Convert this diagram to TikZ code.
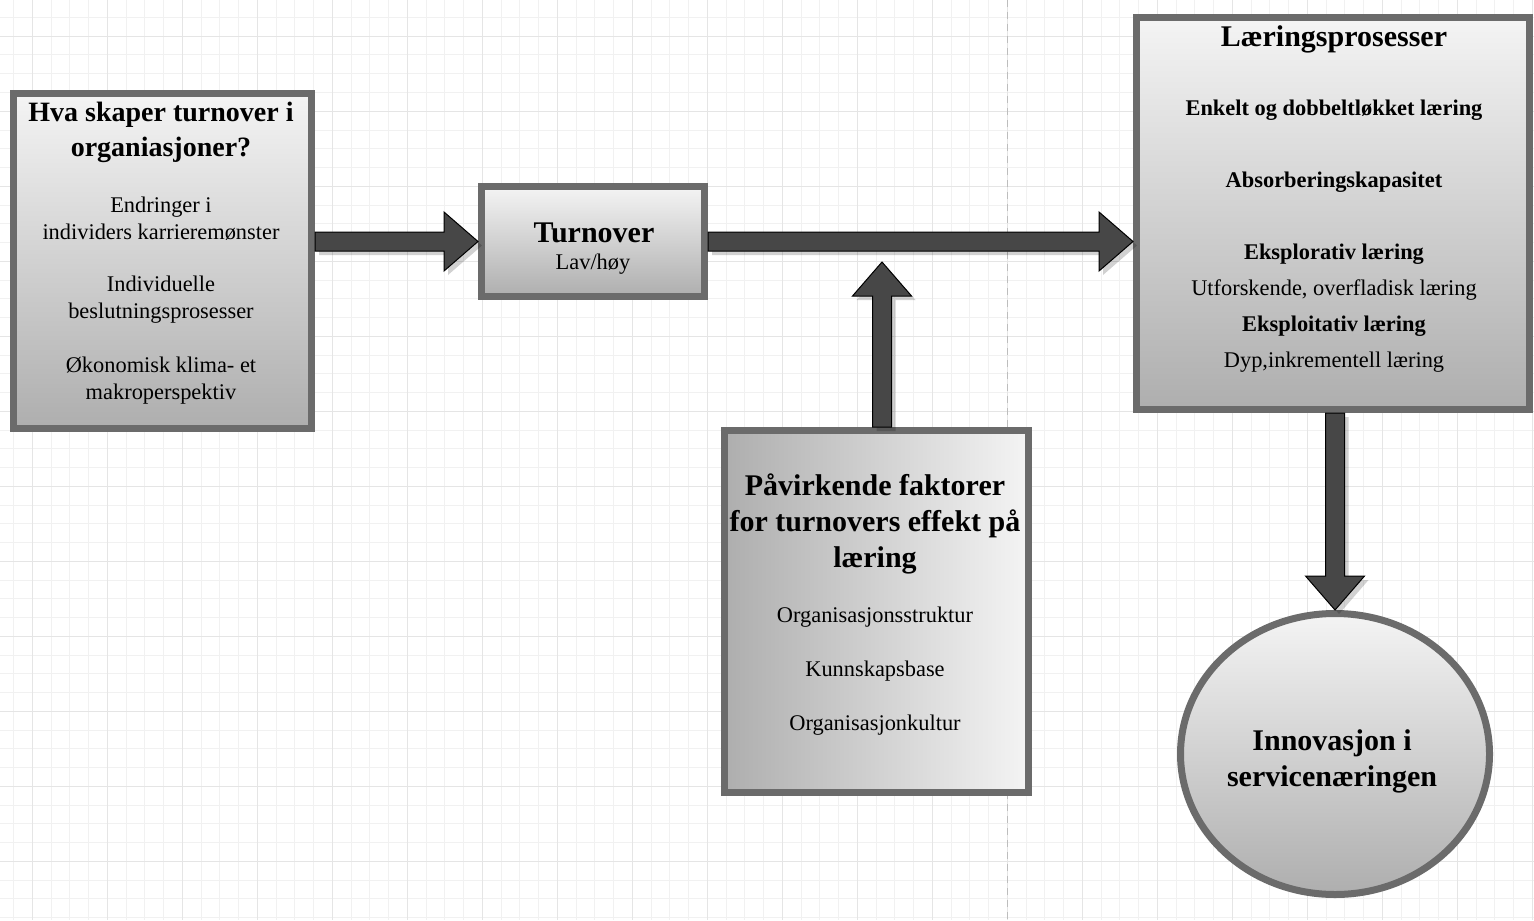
\documentclass[tikz,border=0pt]{standalone}
\usepackage{fontspec}
\setmainfont{Liberation Serif}
\usetikzlibrary{calc,positioning,shadows,shapes.geometric}

\definecolor{boxline}{HTML}{6B6B6B}
\definecolor{shadelight}{HTML}{F4F4F4}
\definecolor{shadedark}{HTML}{AEAEAE}
\definecolor{arrowfill}{HTML}{474747}
\definecolor{gridlight}{HTML}{F1F1F1}
\definecolor{gridmid}{HTML}{E5E5E5}
\definecolor{breakline}{HTML}{BDBDBD}

\newcommand{\bigtitle}{\fontsize{15}{18}\selectfont\bfseries}
\newcommand{\smalltitle}{\fontsize{14}{17.5}\selectfont\bfseries}
\newcommand{\bodytext}{\fontsize{11.2}{13.5}\selectfont}

\tikzset{
  panel/.style={rectangle, draw=boxline, line width=3.5pt, inner sep=0pt},
  vpanel/.style={panel, top color=shadelight, bottom color=shadedark},
  hpanel/.style={panel, left color=shadedark, right color=shadelight},
  boxtext/.style={align=center, inner sep=0pt, text=black},
  fatarrow/.style={draw=black, line width=0.5pt, fill=arrowfill, line join=miter,
    drop shadow={shadow xshift=2pt, shadow yshift=-2pt, opacity=0.18, fill=black},
    to path={-- ($(\tikztostart)!4.75pt!-90:(\tikztotarget)$)
      -- ($(\tikztotarget)!17pt!(\tikztostart)!4.75pt!90:(\tikztostart)$)
      -- ($(\tikztotarget)!17pt!(\tikztostart)!14.75pt!90:(\tikztostart)$)
      -- (\tikztotarget)
      -- ($(\tikztotarget)!17pt!(\tikztostart)!14.75pt!-90:(\tikztostart)$)
      -- ($(\tikztotarget)!17pt!(\tikztostart)!4.75pt!-90:(\tikztostart)$)
      -- ($(\tikztostart)!4.75pt!90:(\tikztotarget)$) -- cycle}},
}

\begin{document}
\begin{tikzpicture}[x=0.5pt, y=-0.5pt]
  % background grid
  \fill[white] (0,0) rectangle (1534,920);
  \useasboundingbox (0,0) rectangle (1534,920);
  \foreach \gx in {0,...,81} \draw[gridlight, line width=0.5pt] ({13.5+18.75*\gx},0) -- ({13.5+18.75*\gx},920);
  \foreach \gy in {0,...,48} \draw[gridlight, line width=0.5pt] (0,{17.5+18.75*\gy}) -- (1534,{17.5+18.75*\gy});
  \foreach \gx in {0,...,20} \draw[gridmid, line width=0.5pt] ({32.25+75*\gx},0) -- ({32.25+75*\gx},920);
  \foreach \gy in {0,...,11} \draw[gridmid, line width=0.5pt] (0,{36.25+75*\gy}) -- (1534,{36.25+75*\gy});
  \draw[breakline, line width=0.6pt, dash pattern=on 3.5pt off 2.5pt] (1007.25,0) -- (1007.25,920);

  % boxes
  \node[vpanel, minimum width=149pt, minimum height=167.5pt] (causes) at (162.5,261) {};
  \node[vpanel, minimum width=111.5pt, minimum height=55pt] (turn) at (593,241.5) {};
  \node[vpanel, minimum width=196.5pt, minimum height=196pt] (learn) at (1333,213.5) {};
  \node[hpanel, minimum width=152pt, minimum height=181pt] (fact) at (876.5,611.5) {};
  \node[ellipse, draw=boxline, line width=3.5pt, inner sep=0pt, top color=shadelight, bottom color=shadedark,
        minimum width=154.5pt, minimum height=140.5pt] (innov) at (1335,754) {};

  % texts
  \node[boxtext, font=\smalltitle] (causestitle) at (161,132) {Hva skaper turnover i\\organiasjoner?};
  \node[boxtext, font=\bodytext] (cause1) at (161,219) {Endringer i\\individers karrieremønster};
  \node[boxtext, font=\bodytext] (cause2) at (161,300) {Individuelle\\beslutningsprosesser};
  \node[boxtext, font=\bodytext] (cause3) at (161,381) {Økonomisk klima- et\\makroperspektiv};

  \node[boxtext, font=\bigtitle] (turntitle) at (594,233) {Turnover};
  \node[boxtext, font=\bodytext] (turnsub) at (593,264) {Lav/høy};

  \node[boxtext, font=\bigtitle] (learntitle) at (1334,39) {Læringsprosesser};
  \node[boxtext, font=\bodytext\bfseries] (learn1) at (1334,110) {Enkelt og dobbeltløkket læring};
  \node[boxtext, font=\bodytext\bfseries] (learn2) at (1334,182) {Absorberingskapasitet};
  \node[boxtext, font=\fontsize{11.2}{18}\selectfont] (learn3) at (1334,308)
    {\textbf{Eksplorativ læring}\\Utforskende, overfladisk læring\\\textbf{Eksploitativ læring}\\Dyp,inkrementell læring};

  \node[boxtext, font=\bigtitle] (facttitle) at (875,524) {Påvirkende faktorer\\for turnovers effekt på\\læring};
  \node[boxtext, font=\bodytext] (fact1) at (875,617) {Organisasjonsstruktur};
  \node[boxtext, font=\bodytext] (fact2) at (875,671) {Kunnskapsbase};
  \node[boxtext, font=\bodytext] (fact3) at (875,725) {Organisasjonkultur};

  \node[boxtext, font=\bigtitle] (innovtext) at (1332,761) {Innovasjon i\\servicenæringen};

  % block arrows
  \coordinate (a1s) at (turn.west -| causes.east);
  \coordinate (a2e) at (learn.west |- turn.east);
  \coordinate (a3e) at (882,262);
  \coordinate (a3s) at (a3e |- fact.north);
  \coordinate (a4s) at (innov.north |- learn.south);
  \draw[fatarrow] (a1s) to (turn.west);
  \draw[fatarrow] (turn.east) to (a2e);
  \draw[fatarrow] (a3s) to (a3e);
  \draw[fatarrow] (a4s) to (innov.north);
\end{tikzpicture}
\end{document}
